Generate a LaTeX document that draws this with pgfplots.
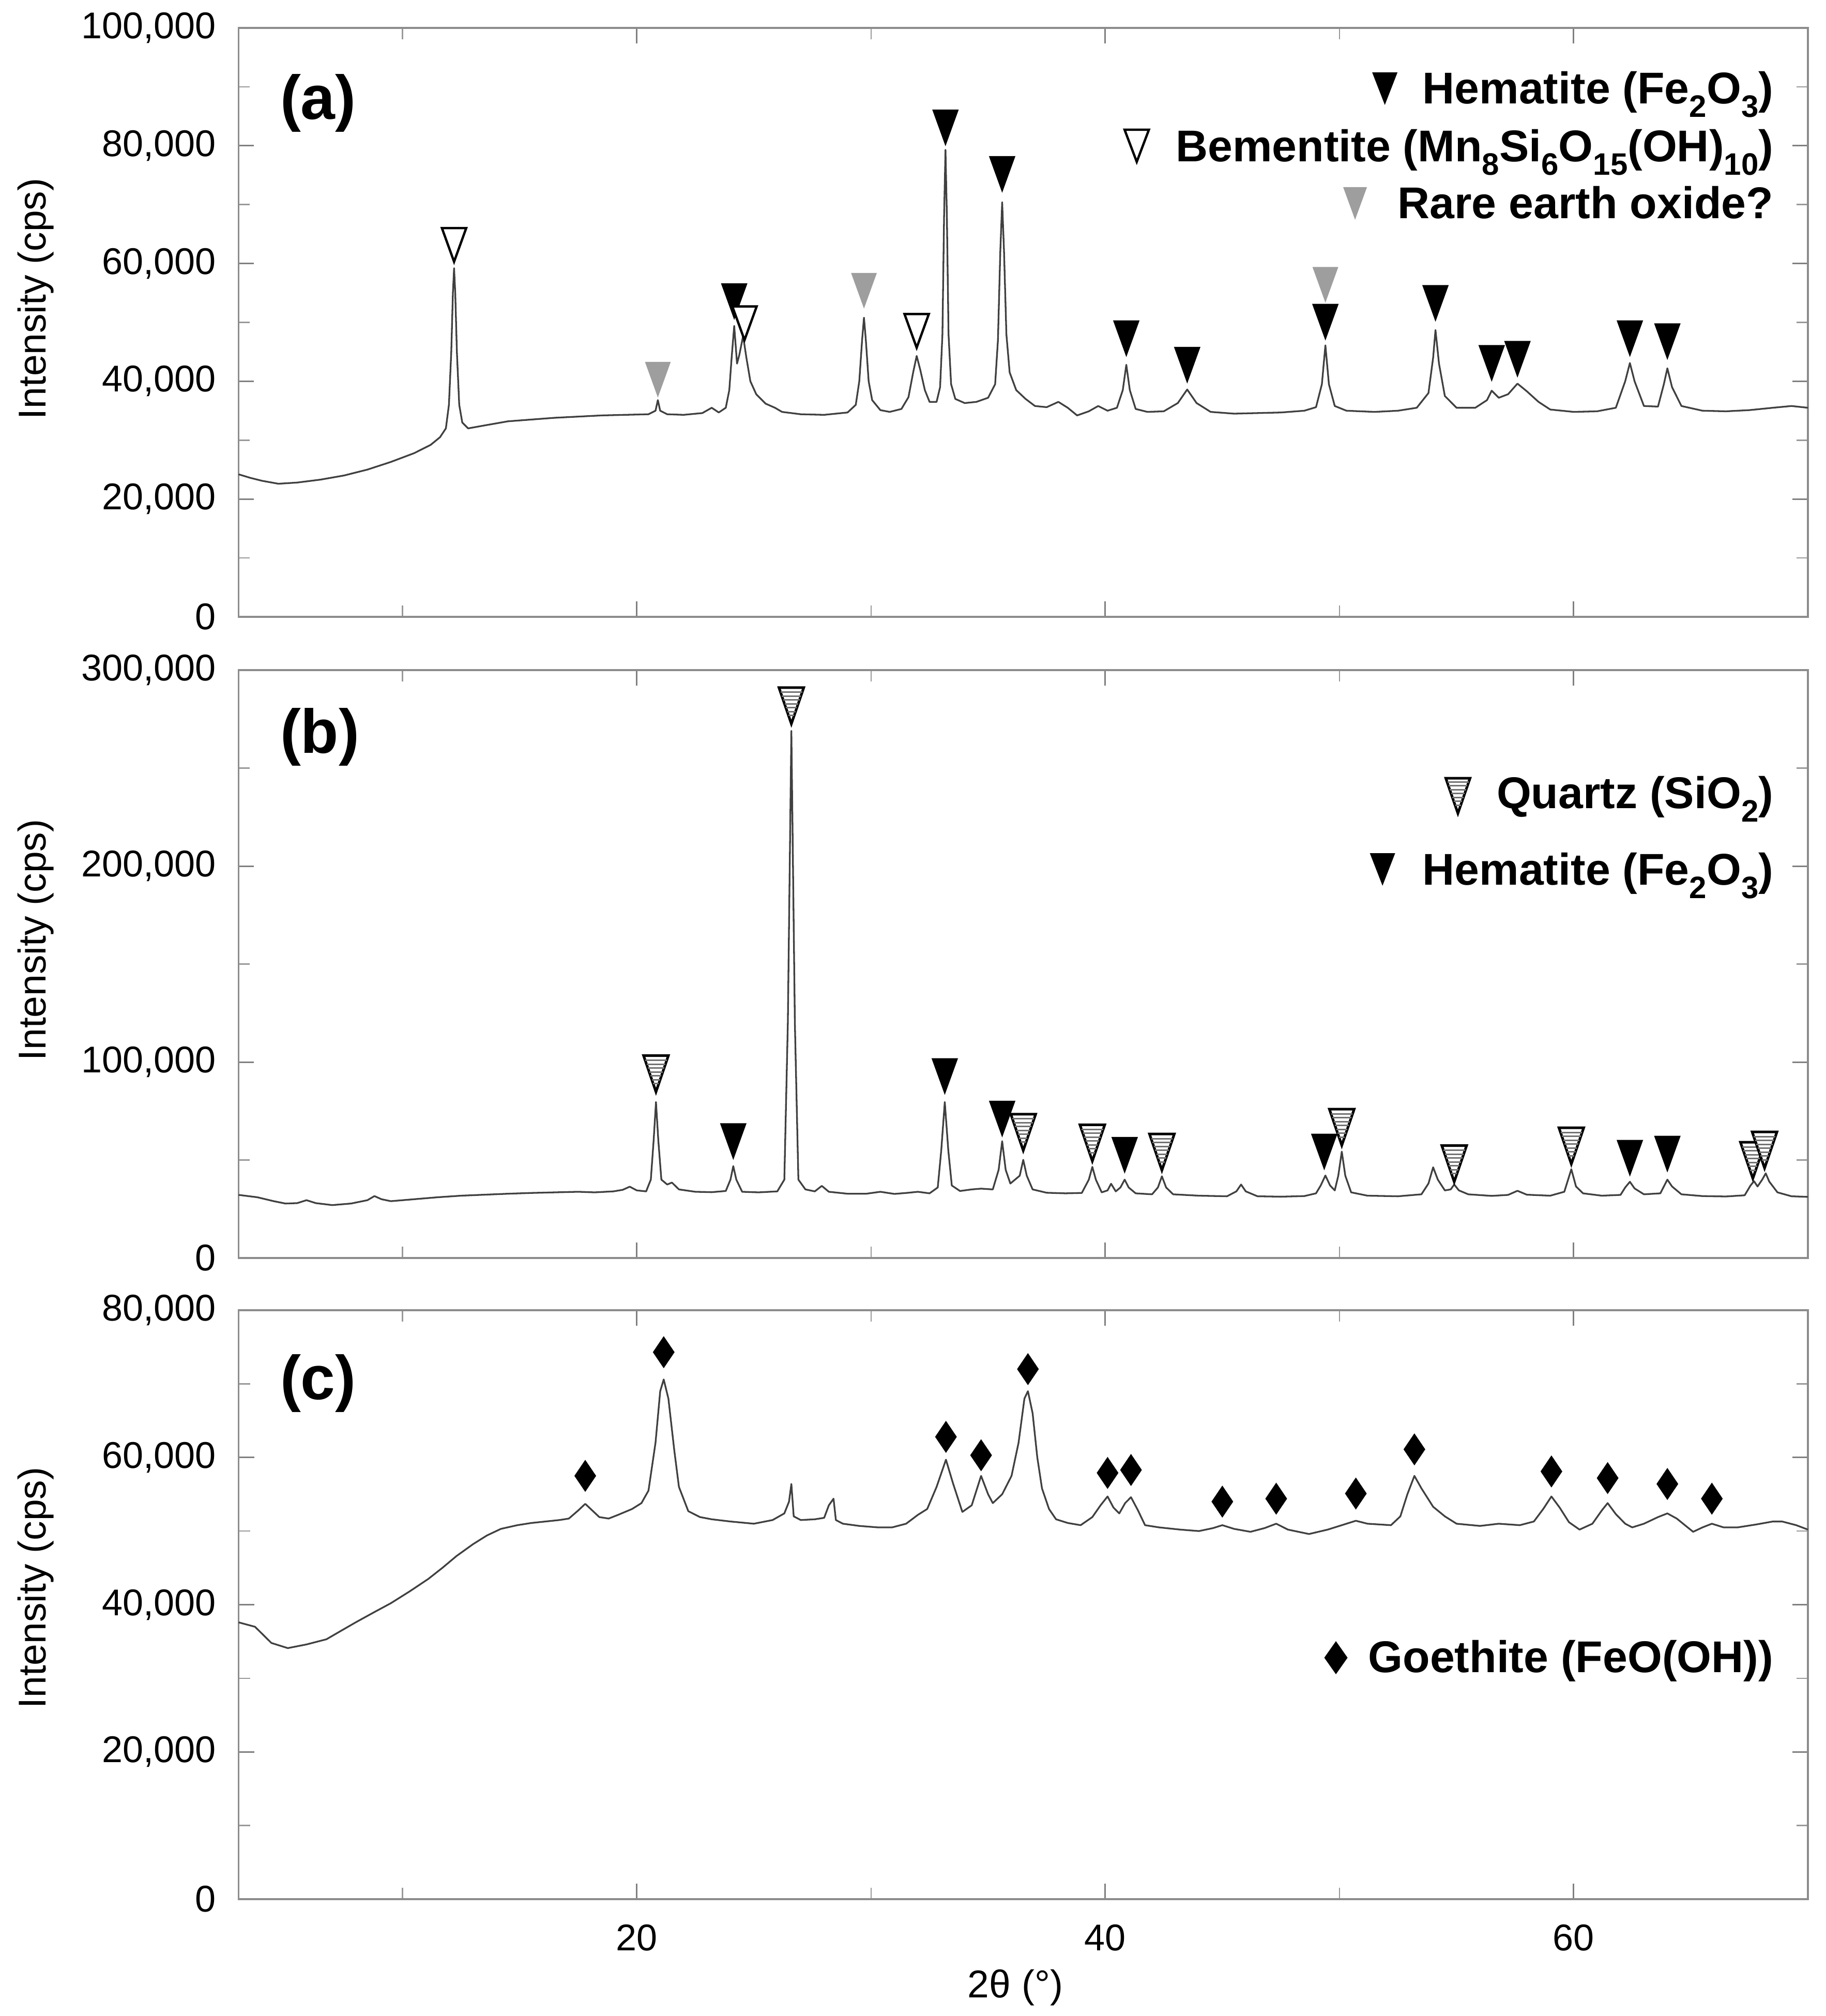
\documentclass[border=0pt]{standalone}
\usepackage{fontspec}
\setmainfont{Liberation Sans}
\usepackage{pgfplots}
\pgfplotsset{compat=1.18}

\newcommand{\sub}[1]{\raisebox{-2.6pt}{\fontsize{6}{6}\selectfont #1}}

\pgfdeclareplotmark{tridown}{%
  \pgfpathmoveto{\pgfqpoint{0pt}{0pt}}%
  \pgfpathlineto{\pgfqpoint{-2.35pt}{6.5pt}}%
  \pgfpathlineto{\pgfqpoint{2.35pt}{6.5pt}}%
  \pgfpathclose
  \pgfusepathqfillstroke}
\pgfdeclareplotmark{quartz}{%
  \pgfpathmoveto{\pgfqpoint{0pt}{0pt}}%
  \pgfpathlineto{\pgfqpoint{-2.4pt}{7.0pt}}%
  \pgfpathlineto{\pgfqpoint{2.4pt}{7.0pt}}%
  \pgfpathclose
  \pgfusepathqfillstroke
  \begin{pgfscope}\pgfsetlinewidth{0.3pt}\pgfsetstrokecolor{black!55}%
  \pgfpathmoveto{\pgfqpoint{-0.55pt}{1.6pt}}\pgfpathlineto{\pgfqpoint{0.55pt}{1.6pt}}%
  \pgfpathmoveto{\pgfqpoint{-0.81pt}{2.35pt}}\pgfpathlineto{\pgfqpoint{0.81pt}{2.35pt}}%
  \pgfpathmoveto{\pgfqpoint{-1.06pt}{3.1pt}}\pgfpathlineto{\pgfqpoint{1.06pt}{3.1pt}}%
  \pgfpathmoveto{\pgfqpoint{-1.32pt}{3.85pt}}\pgfpathlineto{\pgfqpoint{1.32pt}{3.85pt}}%
  \pgfpathmoveto{\pgfqpoint{-1.58pt}{4.6pt}}\pgfpathlineto{\pgfqpoint{1.58pt}{4.6pt}}%
  \pgfpathmoveto{\pgfqpoint{-1.83pt}{5.35pt}}\pgfpathlineto{\pgfqpoint{1.83pt}{5.35pt}}%
  \pgfpathmoveto{\pgfqpoint{-2.09pt}{6.1pt}}\pgfpathlineto{\pgfqpoint{2.09pt}{6.1pt}}%
  \pgfusepathqstroke
  \end{pgfscope}}
\pgfdeclareplotmark{dia}{%
  \pgfpathmoveto{\pgfqpoint{0pt}{3.1pt}}%
  \pgfpathlineto{\pgfqpoint{2.1pt}{0pt}}%
  \pgfpathlineto{\pgfqpoint{0pt}{-3.1pt}}%
  \pgfpathlineto{\pgfqpoint{-2.1pt}{0pt}}%
  \pgfpathclose
  \pgfusepathqfill}

\pgfplotsset{
  xrd/.style={
    scale only axis, width=303.55pt, height=113.9pt,
    xmin=3, xmax=70, clip=false,
    xtick={20,40,60}, minor xtick={10,30,50},
    tick align=inside,
    major tick length=3pt, minor tick length=2.2pt,
    axis line style={draw=black!45, line width=0.35pt},
    tick style={black!50, line width=0.3pt},
    minor tick style={black!40, line width=0.25pt},
    scaled y ticks=false,
    yticklabel style={font=\fontsize{7.2}{8.6}\selectfont, inner sep=0pt, anchor=east, xshift=-4.2pt},
    xticklabel style={font=\fontsize{7.2}{8.6}\selectfont, inner sep=0pt, anchor=north, yshift=-4.7pt},
    /pgf/number format/fixed,
    /pgf/number format/1000 sep={,},
    /pgf/number format/assume math mode=true,
  },
  curve/.style={black!75, line width=0.33pt, mark=none, line join=round},
}

\tikzset{
  lg/.style={font=\bfseries\fontsize{8.6}{10}\selectfont, inner sep=0pt, anchor=base east},
  pn/.style={font=\bfseries\fontsize{12}{14}\selectfont, inner sep=0pt, anchor=west},
  yl/.style={font=\fontsize{7.5}{9}\selectfont, rotate=90},
  pics/hem/.style={code={\fill[black] (0,0) -- (-2.45pt,6.3pt) -- (2.45pt,6.3pt) -- cycle;}},
  pics/bem/.style={code={\filldraw[fill=white,draw=black,line width=0.45pt] (0,0) -- (-2.35pt,6.2pt) -- (2.35pt,6.2pt) -- cycle;}},
  pics/reo/.style={code={\fill[black!38] (0,0) -- (-2.3pt,6.3pt) -- (2.3pt,6.3pt) -- cycle;}},
  pics/qz/.style={code={%
    \filldraw[fill=white,draw=black,line width=0.5pt] (0,0) -- (-2.35pt,6.8pt) -- (2.35pt,6.8pt) -- cycle;
    \foreach \y/\w in {1.6/0.55,2.35/0.81,3.1/1.06,3.85/1.32,4.6/1.58,5.35/1.83,6.1/2.05}
      \draw[line width=0.3pt, black!55] (-\w pt,\y pt) -- (\w pt,\y pt);}},
  pics/goe/.style={code={\fill[black] (0,3.2pt) -- (2.25pt,0) -- (0,-3.2pt) -- (-2.25pt,0) -- cycle;}},
}

\begin{document}
\begin{tikzpicture}
\path[use as bounding box] (0,0) rectangle (353.1pt,-389.9pt);

% ---------------- (a)
\begin{axis}[xrd, name=pa, at={(46.15pt,-5.4pt)}, anchor=north west,
  ymin=0, ymax=100000, ytick={0,20000,40000,60000,80000,100000},
  minor ytick={10000,30000,50000,70000,90000}, xticklabels={,,}]
\addplot[curve] table {
x y
3.0 24200
3.5 23600
4.0 23100
4.7 22600
5.5 22800
6.5 23300
7.5 24000
8.5 25000
9.5 26300
10.5 27800
11.2 29200
11.6 30500
11.85 32000
11.98 36000
12.08 45000
12.15 55000
12.2 59200
12.25 55000
12.32 45000
12.42 36000
12.55 33000
12.8 32000
13.5 32500
14.5 33200
15.5 33500
16.5 33800
17.5 34000
18.5 34200
19.5 34300
20.5 34400
20.8 35000
20.9 36800
21.0 35000
21.3 34400
22.0 34300
22.8 34600
23.2 35500
23.5 34700
23.8 35500
23.95 38500
24.05 44000
24.16 49400
24.28 43000
24.38 44500
24.54 47700
24.68 44000
24.85 40000
25.1 37800
25.5 36200
25.9 35500
26.2 34800
27.0 34400
28.0 34300
29.0 34700
29.35 36000
29.5 40000
29.62 47000
29.7 50800
29.78 47000
29.9 40000
30.05 36800
30.4 35100
30.8 34800
31.3 35300
31.6 37300
31.8 41500
31.95 44300
32.1 42000
32.3 38500
32.5 36500
32.8 36500
32.95 39000
33.05 48000
33.12 68000
33.18 79300
33.24 68000
33.31 48000
33.42 39500
33.6 37000
34.0 36300
34.5 36500
35.0 37200
35.3 39500
35.42 47000
35.52 62000
35.6 70400
35.68 62000
35.78 48000
35.92 41500
36.2 38500
36.6 37000
37.0 35800
37.5 35600
38.0 36500
38.4 35500
38.8 34200
39.3 34900
39.7 35800
40.1 35000
40.5 35500
40.75 38500
40.9 42800
41.05 38500
41.3 35300
41.8 34800
42.5 34900
43.1 36300
43.5 38600
43.9 36300
44.5 34800
45.5 34500
46.5 34600
47.5 34700
48.5 35000
49.0 35600
49.25 39500
49.4 46100
49.55 39500
49.8 35800
50.3 35000
51.5 34800
52.5 35000
53.3 35500
53.8 38000
54.0 44000
54.1 48700
54.25 43000
54.5 37500
55.0 35500
55.8 35500
56.3 36800
56.5 38400
56.8 37200
57.2 37800
57.6 39600
58.0 38300
58.5 36500
59.0 35200
60.0 34800
61.0 34900
61.8 35500
62.2 40000
62.4 43100
62.6 40000
63.0 35800
63.6 35700
63.85 39500
64.0 42200
64.2 39000
64.6 35800
65.5 35000
66.5 34900
67.5 35100
68.5 35500
69.3 35800
70.0 35500
};
\addplot[only marks, mark=tridown, mark options={fill=black, draw=black, line width=0.3pt}] table {
x y
24.16 50800
33.18 80300
35.6 72400
40.9 44500
43.5 40000
49.4 47300
54.1 50500
56.5 40300
57.6 41000
62.4 44500
64.0 44000
};
\addplot[only marks, mark=tridown, mark options={fill=white, draw=black, line width=0.45pt}] table {
x y
12.2 60300
24.6 47000
31.95 45700
};
\addplot[only marks, mark=tridown, mark options={fill=black!38, draw=black!38, line width=0.2pt}] table {
x y
20.9 37500
29.7 52600
49.4 53600
};
\end{axis}

% ---------------- (b)
\begin{axis}[xrd, name=pb, at={(46.15pt,-129.6pt)}, anchor=north west, height=113.7pt,
  ymin=0, ymax=300000, ytick={0,100000,200000,300000},
  minor ytick={50000,150000,250000}, xticklabels={,,}]
\addplot[curve] table {
x y
3.0 32200
3.8 31000
4.5 29000
5.0 27800
5.5 28000
5.9 29500
6.3 28000
7.0 27000
7.8 27800
8.5 29500
8.8 31600
9.1 30000
9.5 29000
10.5 30000
11.5 31000
12.5 31800
13.5 32300
14.5 32800
15.5 33200
16.5 33500
17.5 33800
18.2 33500
19.0 34000
19.4 34800
19.7 36400
20.0 34500
20.4 34000
20.6 40000
20.72 60000
20.82 79600
20.92 60000
21.05 40000
21.3 37500
21.5 38500
21.8 35000
22.5 33800
23.2 33600
23.8 34200
24.0 40000
24.12 46900
24.25 40000
24.5 33800
25.2 33500
26.0 34000
26.3 40000
26.45 120000
26.6 269000
26.75 120000
26.9 40000
27.2 35000
27.6 34000
27.9 36800
28.2 33800
29.0 32800
29.8 32800
30.4 33800
31.0 32700
31.6 33300
32.0 33800
32.5 33000
32.85 36000
33.0 55000
33.15 79600
33.3 55000
33.45 37000
33.8 34200
34.3 35000
34.7 35400
35.2 35000
35.45 45000
35.6 59600
35.75 45000
35.95 38000
36.35 42000
36.5 50100
36.65 42000
36.9 35000
37.5 33300
38.3 33000
39.0 33200
39.3 40000
39.45 46500
39.6 40000
39.85 33500
40.1 34500
40.25 37900
40.45 34000
40.65 36000
40.83 40000
41.0 36000
41.3 33000
42.0 32500
42.25 36000
42.42 41700
42.6 36000
42.9 32500
44.0 31800
45.2 31500
45.6 34000
45.8 37500
46.0 34000
46.5 31500
47.5 31300
48.5 31600
49.0 33000
49.2 37000
49.4 42100
49.6 37000
49.8 34500
49.95 42000
50.1 54300
50.25 42000
50.5 33500
51.2 31800
52.5 31500
53.5 32500
53.8 38000
54.0 46300
54.2 40000
54.5 34500
54.75 35000
54.9 37500
55.1 34500
55.5 32500
56.5 31700
57.2 32200
57.6 34300
58.0 32300
59.0 31800
59.6 33800
59.9 45300
60.1 36500
60.4 33000
61.2 31800
62.0 32200
62.2 36000
62.4 38900
62.6 35500
63.0 32500
63.7 33000
63.85 36500
64.0 40000
64.2 36500
64.6 32500
65.5 31600
66.5 31400
67.3 32000
67.55 37000
67.7 39200
67.85 36500
68.05 40000
68.2 43200
68.35 39000
68.7 33500
69.3 31500
70.0 31200
};
\addplot[only marks, mark=quartz, mark options={fill=white, draw=black, line width=0.5pt}] table {
x y
20.82 84800
26.6 272600
36.5 54900
39.45 49500
42.42 44800
50.1 57500
54.9 38900
59.9 48000
67.65 40600
68.15 45900
};
\addplot[only marks, mark=tridown, mark options={fill=black, draw=black, line width=0.3pt}] table {
x y
24.12 51200
33.15 84400
35.6 62700
40.83 44200
49.35 45900
62.4 42700
64.0 44800
};
\end{axis}

% ---------------- (c)
\begin{axis}[xrd, name=pc, at={(46.15pt,-253.4pt)}, anchor=north west,
  ymin=0, ymax=80000, ytick={0,20000,40000,60000,80000},
  minor ytick={10000,30000,50000,70000}]
\addplot[curve] table {
x y
3.0 37600
3.7 37000
4.4 34800
5.1 34100
5.9 34600
6.75 35300
7.4 36500
8.0 37600
8.8 39000
9.5 40200
10.3 41800
11.1 43500
11.7 45000
12.3 46600
13.0 48200
13.6 49400
14.2 50300
14.9 50800
15.5 51100
16.1 51300
16.7 51500
17.1 51700
17.5 52800
17.8 53700
18.1 52800
18.4 51900
18.8 51700
19.2 52200
19.8 53000
20.2 53800
20.5 55500
20.8 62000
21.0 69000
21.15 70600
21.35 68000
21.6 61000
21.8 56000
22.2 52700
22.7 51900
23.2 51600
24.0 51300
25.0 51000
25.8 51500
26.3 52400
26.5 54000
26.6 56400
26.7 52000
27.0 51500
27.6 51600
28.0 51800
28.2 53500
28.4 54400
28.5 51500
28.8 51000
29.5 50700
30.3 50500
30.9 50500
31.5 51000
32.0 52200
32.4 53000
32.8 56000
33.2 59700
33.5 56500
33.9 52600
34.3 53500
34.7 57500
35.0 55000
35.2 53800
35.6 55000
36.0 57500
36.3 62000
36.55 68000
36.7 69000
36.9 66000
37.1 60000
37.3 55800
37.6 53000
37.9 51600
38.4 51100
38.95 50800
39.45 51900
39.8 53500
40.1 54700
40.35 53200
40.6 52400
40.85 53800
41.1 54600
41.4 52800
41.7 50800
42.3 50500
43.2 50200
44.0 50000
44.6 50400
45.0 50800
45.5 50300
46.2 49900
46.8 50400
47.3 51000
47.8 50200
48.7 49600
49.5 50200
50.2 50900
50.7 51400
51.2 51000
52.2 50800
52.6 52000
52.9 55000
53.2 57500
53.5 55800
54.0 53300
54.5 52000
55.0 51000
56.0 50700
56.8 51000
57.7 50800
58.3 51300
58.7 53000
59.05 54700
59.4 53200
59.8 51200
60.25 50200
60.8 51000
61.2 52800
61.45 53800
61.8 52300
62.2 51000
62.5 50500
63.0 51000
63.6 51900
64.0 52400
64.4 51700
65.1 49900
65.5 50500
65.9 51000
66.4 50500
67.0 50500
67.8 50900
68.5 51300
68.9 51300
69.5 50800
70.0 50200
};
\addplot[only marks, mark=dia, mark options={fill=black}] table {
x y
17.8 57500
21.15 74300
33.2 62800
34.7 60300
36.7 72000
40.1 57900
41.1 58300
45.0 54000
47.3 54400
50.7 55100
53.2 61100
59.05 58100
61.45 57200
64.0 56400
65.9 54400
};
\end{axis}

% ---------------- texts
\node[pn] at (54pt,-19.9pt) {(a)};
\node[pn] at (54pt,-142.5pt) {(b)};
\node[pn] at (54pt,-267.5pt) {(c)};

\node[yl] at (6.9pt,-57.8pt) {Intensity (cps)};
\node[yl] at (6.9pt,-181.8pt) {Intensity (cps)};
\node[yl] at (6.9pt,-307.1pt) {Intensity (cps)};
\node[font=\fontsize{7.5}{9}\selectfont] at (196.4pt,-384.4pt) {2θ (°)};

% legend (a)
\node[lg] (la1) at (343.2pt,-20.1pt) {Hematite (Fe\sub{2}O\sub{3})};
\node[lg] (la2) at (343.2pt,-31.3pt) {Bementite (Mn\sub{8}Si\sub{6}O\sub{15}(OH)\sub{10})};
\node[lg] (la3) at (343.2pt,-42.3pt) {Rare earth oxide?};
\pic at ([xshift=-7.1pt,yshift=-0.2pt]la1.base west) {hem};
\pic at ([xshift=-7.35pt,yshift=0pt]la2.base west) {bem};
\pic at ([xshift=-8.05pt,yshift=-0.2pt]la3.base west) {reo};

% legend (b)
\node[lg] (lb1) at (343.2pt,-156.3pt) {Quartz (SiO\sub{2})};
\node[lg] (lb2) at (343.2pt,-171.1pt) {Hematite (Fe\sub{2}O\sub{3})};
\pic at ([xshift=-7.3pt,yshift=-1.0pt]lb1.base west) {qz};
\pic at ([xshift=-7.55pt,yshift=-0.2pt]lb2.base west) {hem};

% legend (c)
\node[lg] (lc1) at (343.2pt,-323.4pt) {Goethite (FeO(OH))};
\pic at ([xshift=-6.05pt,yshift=2.8pt]lc1.base west) {goe};
\end{tikzpicture}
\end{document}
